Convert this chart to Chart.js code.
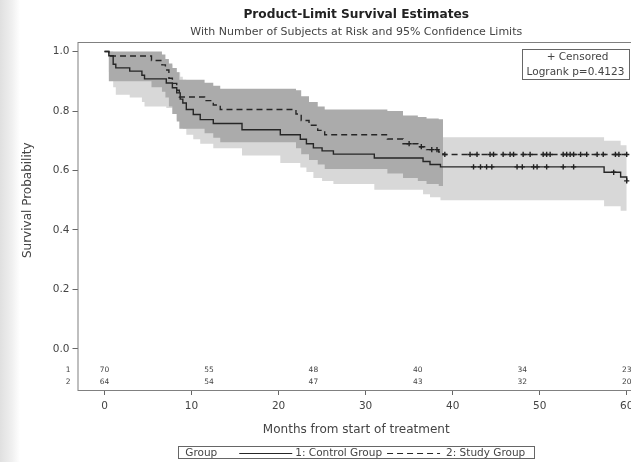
<!DOCTYPE html>
<html>
<head>
<meta charset="utf-8">
<script src="https://cdn.jsdelivr.net/npm/chart.js@4.4.1/dist/chart.umd.min.js"></script>
<style>
  html, body { margin: 0; padding: 0; overflow: hidden; }
  body { width: 631px; height: 462px; background: linear-gradient(to right, #e0e0e0 0px, #f0f0f0 12px, #ffffff 20px); }
  #km { position: absolute; left: 0; top: 0; }
</style>
</head>
<body>
<canvas id="km" width="712" height="462"></canvas>
<script>
const FONT = '"DejaVu Sans", Verdana, sans-serif';

// Kaplan-Meier steps, group 1 (control)
const ctrlTime  = [0, 0.5, 1.0, 1.3, 2.9, 4.3, 4.6, 7.1, 7.8, 8.3, 8.7, 9.0, 9.4, 10.2, 11.0, 12.5, 15.8, 20.2, 22.5, 23.2, 24.0, 25.0, 26.3, 31.0, 36.6, 37.4, 38.6, 57.4, 59.3, 60];
const ctrlSurv  = [1.0, 0.986, 0.957, 0.945, 0.934, 0.92, 0.908, 0.894, 0.878, 0.861, 0.84, 0.827, 0.805, 0.788, 0.771, 0.758, 0.737, 0.72, 0.705, 0.69, 0.676, 0.666, 0.655, 0.642, 0.63, 0.62, 0.612, 0.594, 0.578, 0.565];
const ctrlLower = [1.0, 0.93, 0.88, 0.855, 0.845, 0.83, 0.815, 0.81, 0.79, 0.77, 0.755, 0.74, 0.72, 0.705, 0.69, 0.675, 0.65, 0.625, 0.61, 0.595, 0.575, 0.565, 0.555, 0.535, 0.52, 0.51, 0.50, 0.48, 0.465, 0.455];
const ctrlUpper = [1.0, 1.0, 0.995, 0.99, 0.985, 0.975, 0.965, 0.955, 0.945, 0.93, 0.915, 0.905, 0.89, 0.875, 0.86, 0.85, 0.83, 0.815, 0.80, 0.785, 0.77, 0.76, 0.75, 0.74, 0.73, 0.72, 0.712, 0.70, 0.685, 0.675];

// Kaplan-Meier steps, group 2 (study)
const studyTime  = [0, 0.5, 5.4, 6.6, 7.0, 7.4, 7.8, 8.3, 8.6, 11.5, 12.5, 13.3, 22.0, 22.6, 23.5, 24.5, 25.3, 32.5, 34.3, 36.0, 37.0, 38.4, 38.9, 60];
const studySurv  = [1.0, 0.985, 0.97, 0.955, 0.938, 0.91, 0.893, 0.87, 0.847, 0.835, 0.82, 0.805, 0.79, 0.768, 0.752, 0.735, 0.72, 0.706, 0.69, 0.68, 0.67, 0.662, 0.654, 0.654];
const studyLower = [1.0, 0.90, 0.88, 0.865, 0.845, 0.815, 0.79, 0.765, 0.74, 0.725, 0.71, 0.695, 0.675, 0.655, 0.635, 0.62, 0.605, 0.59, 0.575, 0.565, 0.555, 0.548, 0.54];
const studyUpper = [1.0, 1.0, 1.0, 0.99, 0.975, 0.96, 0.945, 0.93, 0.905, 0.895, 0.885, 0.875, 0.87, 0.85, 0.83, 0.815, 0.805, 0.80, 0.785, 0.78, 0.775, 0.772, 0.77];

// censored observations (months)
const ctrlCensor  = [42.4, 43.2, 43.9, 44.5, 47.4, 48.0, 49.3, 49.7, 50.8, 52.7, 53.9, 58.5, 60.0];
const studyCensor = [35.0, 36.4, 37.6, 38.2, 39.1, 42.0, 42.8, 44.3, 44.7, 45.8, 46.6, 47.0, 48.1, 48.9, 50.4, 50.8, 51.2, 52.7, 53.1, 53.5, 53.9, 54.7, 55.4, 56.6, 57.3, 58.7, 59.1, 60.0];

// number at risk table
const riskTimes   = [0, 12, 24, 36, 48, 60];
const ctrlAtRisk  = [70, 55, 48, 40, 34, 23];
const studyAtRisk = [64, 54, 47, 43, 32, 20];
const groupIds    = ['1', '2'];

const xTicks = [0, 10, 20, 30, 40, 50, 60];
const yTicks = [0, 0.2, 0.4, 0.6, 0.8, 1.0];

function pts(times, vals) {
  return vals.map((v, i) => ({ x: times[i], y: v }));
}
function survAt(times, surv, t) {
  let s = surv[0];
  for (let i = 0; i < times.length; i++) if (times[i] <= t) s = surv[i];
  return s;
}
function censorPts(cens, times, surv) {
  return cens.map(t => ({ x: t, y: survAt(times, surv, t) }));
}

const lineColor = '#262626';
const textColor = '#444';
const band = (data, fill, bg, order) => ({
  data, fill, backgroundColor: bg, borderWidth: 0, pointRadius: 0,
  stepped: 'before', order
});

const extras = {
  id: 'kmExtras',
  afterDraw(chart) {
    const { ctx, chartArea: a, scales: { x, y } } = chart;
    const cx = (a.left + a.right) / 2;
    ctx.save();

    // titles, centred on the plot frame
    ctx.fillStyle = '#222';
    ctx.textAlign = 'center';
    ctx.textBaseline = 'middle';
    ctx.font = 'bold 12.2px ' + FONT;
    ctx.fillText('Product-Limit Survival Estimates', cx, 15);
    ctx.fillStyle = textColor;
    ctx.font = '11px ' + FONT;
    ctx.fillText('With Number of Subjects at Risk and 95% Confidence Limits', cx, 32);

    // y axis title, centred on the 0..1 range
    ctx.save();
    ctx.translate(28, (y.getPixelForValue(0) + y.getPixelForValue(1)) / 2);
    ctx.rotate(-Math.PI / 2);
    ctx.font = '12px ' + FONT;
    ctx.fillText('Survival Probability', 0, 0);
    ctx.restore();

    // frame
    ctx.strokeStyle = '#808080';
    ctx.lineWidth = 1;
    ctx.strokeRect(a.left + 0.5, a.top + 0.5, a.right - a.left, a.bottom - a.top);

    // number at risk rows
    ctx.font = '7.5px ' + FONT;
    const rows = [[groupIds[0], ctrlAtRisk, a.bottom - 20], [groupIds[1], studyAtRisk, a.bottom - 8]];
    rows.forEach(([id, vals, yy]) => {
      ctx.textAlign = 'center';
      vals.forEach((v, i) => ctx.fillText(String(v), x.getPixelForValue(riskTimes[i]), yy));
      ctx.textAlign = 'right';
      ctx.fillText(id, a.left - 7, yy);
    });

    // censored / logrank inset
    const bx = a.right - 113, by = a.top + 7, bw = 107, bh = 30;
    ctx.strokeStyle = '#666';
    ctx.strokeRect(bx + 0.5, by + 0.5, bw, bh);
    ctx.textAlign = 'center';
    ctx.font = '10.5px ' + FONT;
    ctx.fillText('+ Censored', bx + bw / 2 + 2, by + 8);
    ctx.fillText('Logrank p=0.4123', bx + bw / 2, by + 23);

    // group legend below
    ctx.font = '10.5px ' + FONT;
    const items = ['Group', '1: Control Group', '2: Study Group'];
    const w = items.map(s => ctx.measureText(s).width);
    const sample = 53;
    const total = 7 + w[0] + 22 + sample + 3 + w[1] + 5 + sample + 6 + w[2] + 9;
    let lx = cx - total / 2;
    const ly = 453;
    ctx.strokeStyle = '#666';
    ctx.strokeRect(Math.round(lx) + 0.5, ly - 6.5, Math.round(total), 12);
    ctx.textAlign = 'left';
    lx += 7;
    ctx.fillText(items[0], lx, ly);
    lx += w[0] + 22;
    ctx.strokeStyle = lineColor;
    ctx.lineWidth = 1.2;
    ctx.beginPath(); ctx.moveTo(lx, ly + 0.5); ctx.lineTo(lx + sample, ly + 0.5); ctx.stroke();
    lx += sample + 3;
    ctx.fillText(items[1], lx, ly);
    lx += w[1] + 5;
    ctx.setLineDash([6, 4]);
    ctx.beginPath(); ctx.moveTo(lx, ly + 0.5); ctx.lineTo(lx + sample, ly + 0.5); ctx.stroke();
    ctx.setLineDash([]);
    lx += sample + 6;
    ctx.fillText(items[2], lx, ly);

    ctx.restore();
  }
};

new Chart(document.getElementById('km'), {
  type: 'line',
  data: {
    datasets: [
      { data: pts(ctrlTime, ctrlSurv), borderColor: lineColor, borderWidth: 1.4, pointRadius: 0, stepped: 'before', fill: false, order: 1 },
      { data: pts(studyTime, studySurv), borderColor: lineColor, borderWidth: 1.4, borderDash: [6, 4], pointRadius: 0, stepped: 'before', fill: false, order: 1 },
      { data: censorPts(ctrlCensor, ctrlTime, ctrlSurv), showLine: false, pointStyle: 'cross', pointRadius: 2.6, pointBorderWidth: 1.4, borderColor: '#222', order: 0 },
      { data: censorPts(studyCensor, studyTime, studySurv), showLine: false, pointStyle: 'cross', pointRadius: 2.6, pointBorderWidth: 1.4, borderColor: '#222', order: 0 },
      band(pts(studyTime, studyUpper), '+1', 'rgb(171,171,171)', 5),
      band(pts(studyTime, studyLower), false, 'transparent', 5),
      band(pts(ctrlTime, ctrlUpper), '+1', 'rgb(216,216,216)', 6),
      band(pts(ctrlTime, ctrlLower), false, 'transparent', 6)
    ]
  },
  options: {
    responsive: false,
    animation: false,
    layout: { padding: { left: 0, right: 77, top: 42, bottom: 18 } },
    plugins: {
      legend: { display: false },
      tooltip: { enabled: false }
    },
    scales: {
      x: {
        type: 'linear',
        min: -3.1,
        max: 60.95,
        afterBuildTicks: s => { s.ticks = xTicks.map(v => ({ value: v })); },
        afterFit: s => { s.height = 54; },
        grid: { drawOnChartArea: false, drawTicks: true, tickLength: 5, tickColor: '#666' },
        border: { display: false },
        ticks: { color: textColor, font: { family: FONT, size: 10.5 }, padding: 5, maxRotation: 0 },
        title: {
          display: true,
          text: 'Months from start of treatment',
          color: textColor,
          font: { family: FONT, size: 12 },
          padding: { top: 0, bottom: 6.8 }
        }
      },
      y: {
        type: 'linear',
        min: -0.138,
        max: 1.032,
        afterBuildTicks: s => { s.ticks = yTicks.map(v => ({ value: v })); },
        afterFit: s => { s.width = 77.5; },
        grid: { drawOnChartArea: false, drawTicks: true, tickLength: 5, tickColor: '#666' },
        border: { display: false },
        ticks: { color: textColor, font: { family: FONT, size: 10.5 }, padding: 3, callback: v => v.toFixed(1) }
      }
    }
  },
  plugins: [extras]
});
</script>
</body>
</html>
